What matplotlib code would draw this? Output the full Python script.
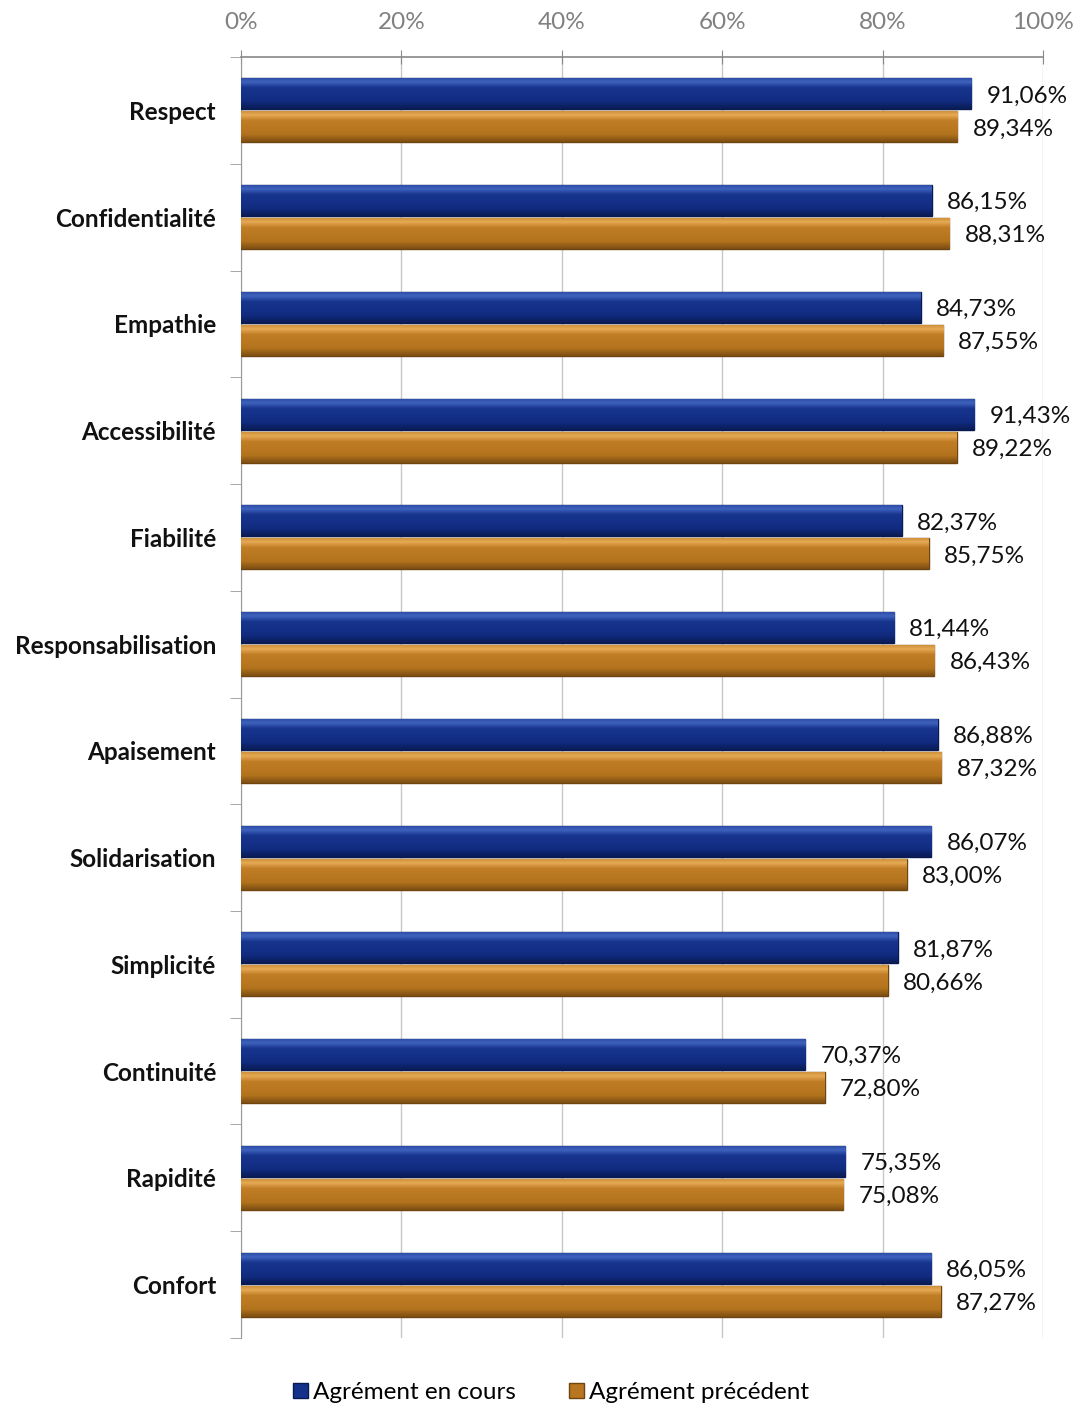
import matplotlib
matplotlib.use("Agg")
import matplotlib.pyplot as plt
import numpy as np
from matplotlib.ticker import FixedLocator, PercentFormatter
from matplotlib.colors import to_rgb

plt.rcParams['font.family'] = ['Lato', 'DejaVu Sans']

categories = ["Respect", "Confidentialité", "Empathie", "Accessibilité", "Fiabilité",
              "Responsabilisation", "Apaisement", "Solidarisation", "Simplicité",
              "Continuité", "Rapidité", "Confort"]
en_cours = [91.06, 86.15, 84.73, 91.43, 82.37, 81.44, 86.88, 86.07, 81.87, 70.37, 75.35, 86.05]
precedent = [89.34, 88.31, 87.55, 89.22, 85.75, 86.43, 87.32, 83.00, 80.66, 72.80, 75.08, 87.27]
series_names = ["Agrément en cours", "Agrément précédent"]
xticks = [0, 20, 40, 60, 80, 100]

fig = plt.figure(figsize=(10.76, 14.05), dpi=100)
ax = fig.add_axes([0.224, 0.0477, 0.7453, 0.9117])

n = len(categories)
y = np.arange(n)
h = 0.29
off = 0.155
c_blue = "#13308a"
c_orange = "#b7761f"

b1 = ax.barh(y - off, en_cours, height=h, color=c_blue, edgecolor="#0a1a50", linewidth=1.0,
             label=series_names[0], zorder=3)
b2 = ax.barh(y + off, precedent, height=h, color=c_orange, edgecolor="#6e4510", linewidth=1.0,
             label=series_names[1], zorder=3)

def gradient(stops, N=64):
    pos = np.linspace(0, 1, N)
    sp = [s[0] for s in stops]
    cols = np.array([to_rgb(s[1]) for s in stops])
    out = np.stack([np.interp(pos, sp, cols[:, k]) for k in range(3)], axis=-1)
    return out[:, None, :]

grad_blue = gradient([(0, "#2d4ea8"), (0.12, "#3f63bd"), (0.3, "#18358f"), (0.75, "#112b80"), (1, "#0a1c55")])
grad_orange = gradient([(0, "#d0913a"), (0.12, "#e6aa55"), (0.3, "#c07d25"), (0.75, "#b3731d"), (1, "#7c4e12")])

for bars, g in ((b1, grad_blue), (b2, grad_orange)):
    for p in bars:
        x0, y0, w, hh = p.get_x(), p.get_y(), p.get_width(), p.get_height()
        im = ax.imshow(g, extent=(x0, x0 + w, y0 + hh, y0), origin="upper", aspect="auto",
                       zorder=3.5, interpolation="bilinear")
        im.set_clip_path(p)

def fmt(v):
    return f"{v:.2f}".replace(".", ",") + "%"

for yi, v in zip(y, en_cours):
    ax.text(v + 1.9, yi - off + 0.02, fmt(v), va="center", ha="left", fontsize=17.5, color="#111111", zorder=5)
for yi, v in zip(y, precedent):
    ax.text(v + 1.9, yi + off + 0.02, fmt(v), va="center", ha="left", fontsize=17.5, color="#111111", zorder=5)

ax.set_xlim(0, 100)
ax.set_ylim(n - 0.5, -0.5)
ax.xaxis.tick_top()
ax.set_xticks(xticks)
ax.xaxis.set_major_formatter(PercentFormatter(decimals=0))
ax.tick_params(axis="x", which="major", direction="inout", length=10, color="#888888",
               labelsize=17.5, labelcolor="#808080", pad=12)
ax.grid(axis="x", color="#c8c8c8", linewidth=1.0, zorder=0)

ax.set_yticks(y)
ax.set_yticklabels(categories, fontsize=17.5, fontweight="bold", color="#111111")
ax.tick_params(axis="y", which="major", length=0, pad=18)
ax.yaxis.set_minor_locator(FixedLocator(np.arange(-0.5, n, 1.0)))
ax.tick_params(axis="y", which="minor", length=8, color="#999999", direction="out")

for s in ["right", "bottom"]:
    ax.spines[s].set_visible(False)
ax.spines["top"].set_color("#888888")
ax.spines["left"].set_color("#999999")
ax.spines["top"].set_linewidth(1.2)

leg = fig.legend(handles=[b1, b2], labels=series_names, loc="center", bbox_to_anchor=(0.512, 0.009),
                 ncol=2, frameon=False, fontsize=17.5, handlelength=0.6, handleheight=0.6,
                 handletextpad=0.2, columnspacing=2.2)

fig.savefig("out.png", dpi=100)
